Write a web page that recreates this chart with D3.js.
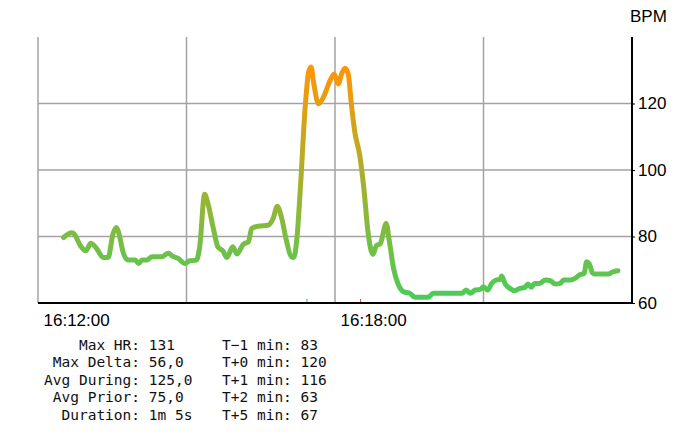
<!DOCTYPE html>
<html>
<head>
<meta charset="utf-8">
<script src="https://cdn.jsdelivr.net/npm/d3@7"></script>
<style>
  html, body { margin: 0; padding: 0; background: #ffffff; }
  svg { display: block; }
  .stats text { white-space: pre; }
</style>
</head>
<body>
<svg id="chart" width="697" height="436"></svg>
<script>
// ---------- DATA ----------
const times = [
  "16:12:31","16:12:41","16:12:44","16:12:51","16:12:58","16:13:04","16:13:11","16:13:19","16:13:25","16:13:31",
  "16:13:35","16:13:38","16:13:43","16:13:49","16:13:58","16:14:02","16:14:06","16:14:12","16:14:18","16:14:30",
  "16:14:38","16:14:43","16:14:50","16:14:58","16:15:04","16:15:12","16:15:16","16:15:22","16:15:26","16:15:33",
  "16:15:38","16:15:44","16:15:49","16:15:56","16:16:01","16:16:09","16:16:15","16:16:19","16:16:27","16:16:39",
  "16:16:45","16:16:50","16:16:55","16:17:01","16:17:07","16:17:10","16:17:14","16:17:18","16:17:24","16:17:28",
  "16:17:31","16:17:34","16:17:40","16:17:46","16:17:54","16:17:59","16:18:04","16:18:08","16:18:12","16:18:16",
  "16:18:20","16:18:24","16:18:30","16:18:35","16:18:40","16:18:46","16:18:50","16:18:55","16:19:02","16:19:06",
  "16:19:11","16:19:17","16:19:23","16:19:31","16:19:37","16:19:53","16:19:59","16:20:34","16:20:39","16:20:44",
  "16:20:50","16:20:56","16:21:00","16:21:05","16:21:10","16:21:15","16:21:20","16:21:22","16:21:26","16:21:32",
  "16:21:38","16:21:44","16:21:50","16:21:54","16:21:58","16:22:02","16:22:08","16:22:15","16:22:21","16:22:27",
  "16:22:33","16:22:37","16:22:45","16:22:51","16:22:56","16:23:02","16:23:05","16:23:08","16:23:12","16:23:15",
  "16:23:31","16:23:37","16:23:43"
];
const bpm = [
  79.7, 81.1, 80.7, 77.4, 75.7, 78.0, 76.4, 73.7, 73.7, 80.9,
  82.7, 81.0, 75.4, 72.9, 72.9, 71.9, 72.9, 72.9, 73.9, 73.9,
  75.0, 74.1, 73.4, 71.9, 72.7, 72.9, 76.9, 92.7, 89.9, 81.9,
  76.9, 75.7, 73.7, 76.9, 74.7, 77.7, 78.4, 82.4, 83.1, 83.4,
  85.4, 89.1, 85.9, 78.9, 73.9, 73.7, 79.9, 94.4, 119.4, 129.4,
  131.0, 126.4, 119.9, 121.9, 126.9, 128.9, 125.9, 128.9, 130.6, 128.9,
  119.4, 111.4, 104.4, 94.4, 81.4, 74.6, 77.2, 77.9, 83.9, 78.4,
  70.4, 65.4, 63.4, 62.9, 61.7, 61.7, 62.9, 62.9, 63.9, 62.9,
  63.9, 64.1, 64.9, 63.9, 65.9, 66.9, 67.1, 68.1, 65.9, 64.4,
  63.7, 64.4, 64.7, 65.7, 64.7, 65.9, 65.9, 66.9, 66.7, 65.7,
  65.9, 66.9, 66.9, 67.4, 68.4, 68.9, 72.4, 71.9, 69.1, 68.7,
  68.7, 69.4, 69.7
];
const timeDomain = ["16:12:00", "16:24:00"];
const gridTimes = ["16:12:00", "16:15:00", "16:18:00", "16:21:00", "16:24:00"];
const labelTimes = ["16:12:00", "16:18:00"];
const bpmDomain = [60, 140];
const bpmTicks = [60, 80, 100, 120];
const eventStart = "16:17:26";
const eventEnd = "16:18:31";
const axisTitle = "BPM";
const statsLeft = [
  "    Max HR: 131",
  " Max Delta: 56,0",
  "Avg During: 125,0",
  " Avg Prior: 75,0",
  "  Duration: 1m 5s"
];
const statsRight = [
  "T\u22121 min: 83",
  "T+0 min: 120",
  "T+1 min: 116",
  "T+2 min: 63",
  "T+5 min: 67"
];

// ---------- CHART ----------
(function () {
const parse = d3.timeParse("%H:%M:%S");
const svg = d3.select("#chart");
const pL = 38, pR = 632, pT = 37, pB = 303;

const x = d3.scaleTime().domain(timeDomain.map(parse)).range([pL, pR]);
const y = d3.scaleLinear().domain(bpmDomain).range([pB, pT]);

const sansFont = "'Liberation Sans', Arial, sans-serif";

// vertical grid
svg.append("g").selectAll("line").data(gridTimes.map(parse)).join("line")
  .attr("x1", d => x(d)).attr("x2", d => x(d))
  .attr("y1", pT).attr("y2", pB)
  .attr("stroke", "#a3a3a3").attr("stroke-width", 1.5);

// horizontal grid
svg.append("g").selectAll("line").data(bpmTicks.filter(v => v > bpmDomain[0])).join("line")
  .attr("x1", pL).attr("x2", pR)
  .attr("y1", d => y(d)).attr("y2", d => y(d))
  .attr("stroke", "#a3a3a3").attr("stroke-width", 1.5);

// line gradient
const vmin = d3.min(bpm), vmax = d3.max(bpm);
const defs = svg.append("defs");
const grad = defs.append("linearGradient").attr("id", "hrGrad")
  .attr("gradientUnits", "userSpaceOnUse")
  .attr("x1", 0).attr("x2", 0)
  .attr("y1", y(vmin)).attr("y2", y(vmax));
grad.append("stop").attr("offset", "0%").attr("stop-color", "rgb(76,203,88)");
grad.append("stop").attr("offset", "100%").attr("stop-color", "rgb(255,150,5)");

const pts = times.map((t, i) => ({ t: parse(t), v: bpm[i] }));
const line = d3.line().x(d => x(d.t)).y(d => y(d.v)).curve(d3.curveMonotoneX);
svg.append("path").datum(pts)
  .attr("d", line)
  .attr("fill", "none")
  .attr("stroke", "url(#hrGrad)")
  .attr("stroke-width", 5)
  .attr("stroke-linecap", "round")
  .attr("stroke-linejoin", "round");

// event markers
svg.append("line")
  .attr("x1", x(parse(eventStart))).attr("x2", x(parse(eventStart)))
  .attr("y1", pB - 4).attr("y2", pB)
  .attr("stroke", "#3cb043").attr("stroke-width", 1);
svg.append("line")
  .attr("x1", x(parse(eventEnd))).attr("x2", x(parse(eventEnd)))
  .attr("y1", pB - 4).attr("y2", pB)
  .attr("stroke", "#e8403a").attr("stroke-width", 1);

// x axis
const xAxis = d3.axisBottom(x).tickValues(labelTimes.map(parse))
  .tickFormat(d3.timeFormat("%H:%M:%S")).tickSize(0).tickPadding(0);
const gx = svg.append("g").attr("transform", `translate(0,${pB})`).call(xAxis);
gx.select(".domain").remove();
gx.selectAll("text")
  .attr("text-anchor", "start").attr("dx", 5).attr("dy", null).attr("y", 23)
  .attr("fill", "#000").style("font-family", sansFont).style("font-size", "17px");
svg.append("line").attr("x1", pL).attr("x2", pR + 1)
  .attr("y1", pB).attr("y2", pB)
  .attr("stroke", "#000").attr("stroke-width", 2);

// y axis on right
const yAxis = d3.axisRight(y).tickValues(bpmTicks).tickSize(3).tickPadding(3);
const gy = svg.append("g").attr("transform", `translate(${pR},0)`).call(yAxis);
gy.select(".domain").remove();
gy.selectAll(".tick line").attr("stroke", "#000").attr("stroke-width", 1);
gy.selectAll("text").attr("fill", "#000")
  .style("font-family", sansFont).style("font-size", "17px");
svg.append("line").attr("x1", pR).attr("x2", pR)
  .attr("y1", pT).attr("y2", pB + 1)
  .attr("stroke", "#000").attr("stroke-width", 2);

svg.append("text").attr("x", pR - 2).attr("y", 22)
  .attr("fill", "#000").style("font-family", sansFont).style("font-size", "17px")
  .text(axisTitle);

// stats
const monoFont = "'DejaVu Sans Mono', monospace";
const stats = svg.append("g").attr("class", "stats")
  .style("font-family", monoFont).style("font-size", "14.5px").attr("fill", "#111");
stats.selectAll("text.l").data(statsLeft).join("text").attr("class", "l")
  .attr("xml:space", "preserve")
  .attr("x", 44).attr("y", (d, i) => 350 + i * 17.4).text(d => d);
stats.selectAll("text.r").data(statsRight).join("text").attr("class", "r")
  .attr("xml:space", "preserve")
  .attr("x", 222).attr("y", (d, i) => 350 + i * 17.4).text(d => d);
})();
</script>
</body>
</html>
